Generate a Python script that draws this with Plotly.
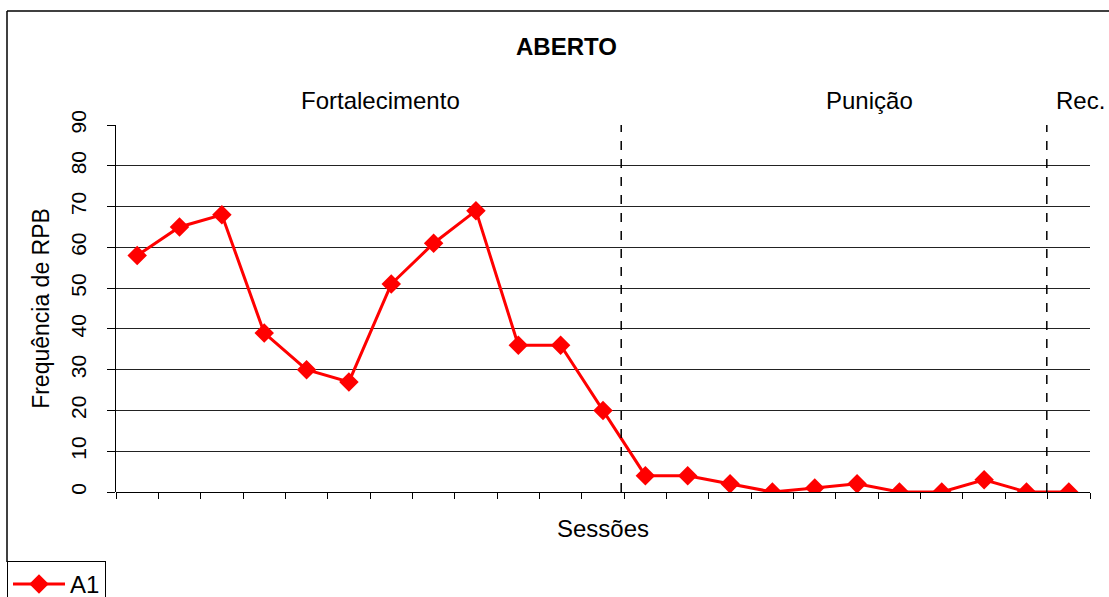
import plotly.graph_objects as go

sessions = list(range(1, 24))
a1 = [58, 65, 68, 39, 30, 27, 51, 61, 69, 36, 36, 20, 4, 4, 2, 0, 1, 2, 0, 0, 3, 0, 0]
y_ticks = [0, 10, 20, 30, 40, 50, 60, 70, 80, 90]
phase_labels = ["Fortalecimento", "Punição", "Rec."]
phase_px = [380, 869, 1080]
phase_breaks = [12.43, 22.48]

W, H = 1109, 597
L, R, T, B = 116, 19, 125, 105
pw, ph = W - L - R, H - T - B

def px_x(x):
    return (x - L) / pw

def px_y(y):
    return (H - B - y) / ph

FONT = "Liberation Sans, Arial, sans-serif"

fig = go.Figure()
fig.add_trace(go.Scatter(
    x=sessions, y=a1, mode="lines+markers", name="A1",
    line=dict(color="#FF0000", width=3),
    marker=dict(symbol="diamond", size=15, color="#FF0000"),
))

shapes = []
for xb in phase_breaks:
    shapes.append(dict(type="line", xref="x", yref="y", x0=xb, x1=xb, y0=0, y1=90,
                       line=dict(color="black", width=1.5, dash="dash")))
# outer chart border (cropped at right/bottom)
shapes.append(dict(type="line", xref="paper", yref="paper",
                   x0=px_x(7), x1=px_x(7), y0=px_y(562), y1=px_y(11),
                   line=dict(color="black", width=1.5)))
shapes.append(dict(type="line", xref="paper", yref="paper",
                   x0=px_x(7), x1=px_x(1112), y0=px_y(11), y1=px_y(11),
                   line=dict(color="black", width=1.5)))

annotations = []
for lbl, xp in zip(phase_labels, phase_px):
    annotations.append(dict(text=lbl, x=px_x(xp), xref="paper", y=px_y(101), yref="paper",
                            showarrow=False, xanchor="center", yanchor="middle",
                            font=dict(size=24, color="black", family=FONT)))
annotations.append(dict(text="<b>ABERTO</b>", x=px_x(566), xref="paper", y=px_y(46), yref="paper",
                        showarrow=False, xanchor="center", yanchor="middle",
                        font=dict(size=24, color="black", family=FONT)))

fig.update_layout(
    width=W, height=H,
    margin=dict(l=L, r=R, t=T, b=B, autoexpand=False),
    paper_bgcolor="white", plot_bgcolor="white",
    font=dict(family=FONT, color="black"),
    shapes=shapes, annotations=annotations,
    showlegend=True,
    legend=dict(x=px_x(7), xanchor="left", y=px_y(561), yanchor="top",
                bgcolor="white", bordercolor="black", borderwidth=1,
                font=dict(size=24, family=FONT, color="black"),
                itemwidth=52),
    xaxis=dict(range=[0.5, 23.5], tickmode="array",
               tickvals=[i + 0.5 for i in range(0, 24)],
               showticklabels=False, ticks="outside", ticklen=6, tickcolor="black",
               showgrid=False, zeroline=False, showline=False,
               title=dict(text="Sessões", font=dict(size=24, family=FONT), standoff=22)),
    yaxis=dict(range=[0, 90], tickmode="array", tickvals=y_ticks,
               ticktext=[str(v) for v in y_ticks],
               tickangle=-90, tickfont=dict(size=21, family=FONT),
               ticks="outside", ticklen=8, tickcolor="black",
               ticklabelstandoff=13,
               showgrid=True, gridcolor="#222222", gridwidth=1,
               showline=True, linecolor="black", linewidth=1,
               zeroline=True, zerolinecolor="black", zerolinewidth=1,
               title=dict(text="Frequência de RPB", font=dict(size=23, family=FONT), standoff=10)),
)

fig.write_html("out.html")
